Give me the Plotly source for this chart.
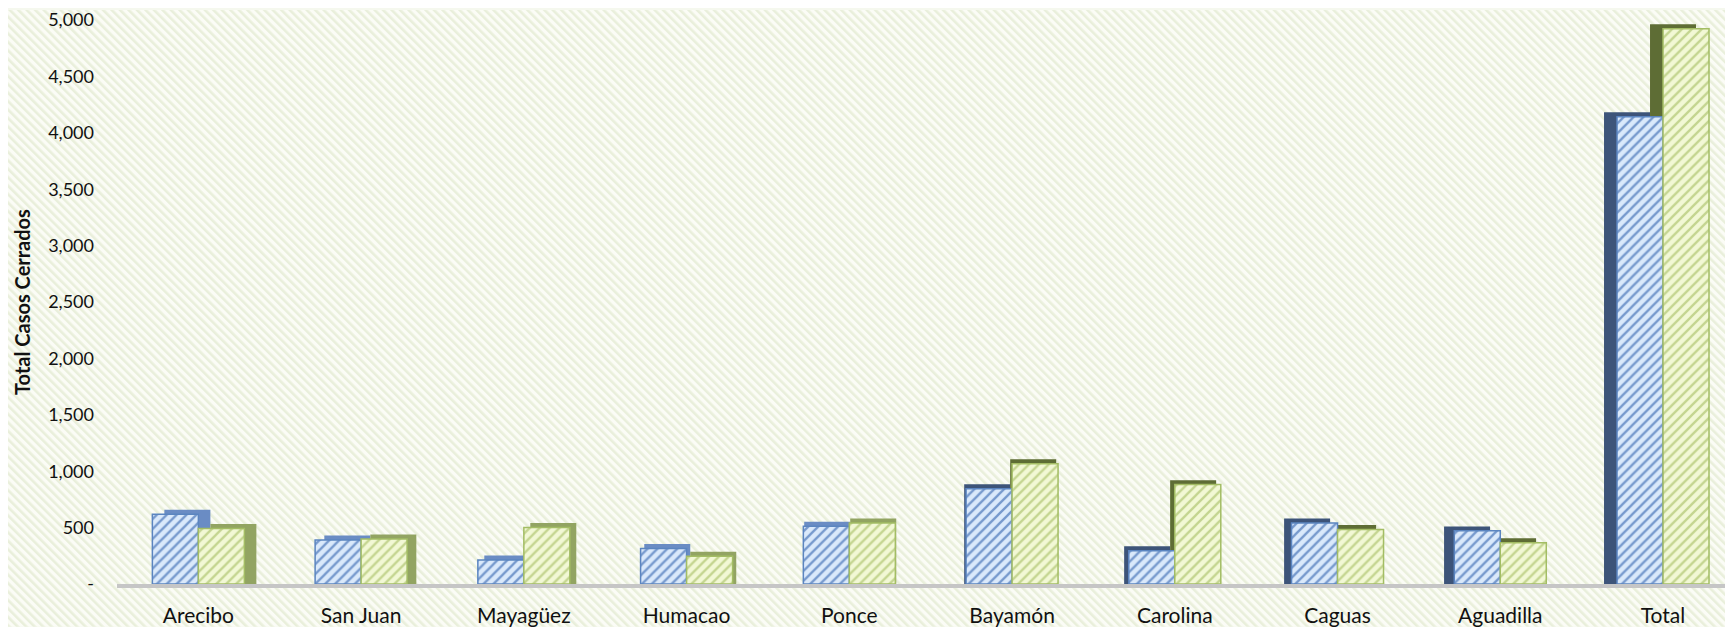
import base64
import plotly.graph_objects as go

categories = ["Arecibo", "San Juan", "Mayagüez", "Humacao", "Ponce",
              "Bayamón", "Carolina", "Caguas", "Aguadilla", "Total"]
serie_azul = [618, 390, 212, 315, 512, 845, 294, 541, 471, 4143]
serie_verde = [492, 400, 500, 247, 541, 1066, 881, 483, 365, 4923]
y_tickvals = [0, 500, 1000, 1500, 2000, 2500, 3000, 3500, 4000, 4500, 5000]
y_ticktext = ["-", "500", "1,000", "1,500", "2,000", "2,500", "3,000",
              "3,500", "4,000", "4,500", "5,000"]
y_title = "Total Casos Cerrados"

# page body has an 8px default margin; size the figure to the visible area
OFF = 8
W, H = 1733 - OFF, 627 - OFF
ML, MR, MT, MB = 117 - OFF, 0, 18 - OFF, 43
PW, PH = W - ML - MR, H - MT - MB
XMAX = 9.43
unit_px = PW / (XMAX + 0.5)
px_per_val = PH / 5000.0

bw = 46 / unit_px                      # bar width in category units
n = len(categories)
# pseudo-3D depth: horizontal shift varies with perspective, vertical shift fixed
dx = [(12 - 25 * i / (n - 1)) / unit_px for i in range(n)]
dy = 4.5 / px_per_val
blue_side = ["#6a8cc4" if i < 5 else "#3d5479" for i in range(n)]
green_side = ["#92a462" if i < 5 else "#5e6d35" for i in range(n)]

svg = (
    f'<svg xmlns="http://www.w3.org/2000/svg" width="{W}" height="{H}">'
    '<defs><pattern id="p" width="6" height="6" patternUnits="userSpaceOnUse" '
    'patternTransform="rotate(-45)">'
    '<rect width="6" height="6" fill="#fbfcf6"/>'
    '<rect width="2.6" height="6" fill="#e9efdb"/></pattern></defs>'
    '<rect width="100%" height="100%" fill="url(#p)"/></svg>'
)
bg_src = "data:image/svg+xml;base64," + base64.b64encode(svg.encode()).decode()

fig = go.Figure()

# depth (side/top) faces, drawn first so the front faces cover them
for vals, off0, cols in [(serie_azul, -bw, blue_side), (serie_verde, 0.0, green_side)]:
    fig.add_trace(go.Bar(
        x=categories, y=[v + dy for v in vals],
        offset=[off0 + d for d in dx], width=bw,
        marker=dict(color=cols, line=dict(width=0)),
        showlegend=False, hoverinfo="skip"))

# front faces
fig.add_trace(go.Bar(
    x=categories, y=serie_azul, offset=-bw, width=bw, name="Azul",
    marker=dict(
        color="#d8e8fb",
        line=dict(color="#5b85c0", width=1.5),
        pattern=dict(shape="/", fillmode="replace", bgcolor="#dae9fb",
                     fgcolor="#7699cd", size=7, solidity=0.33)),
    showlegend=False))
fig.add_trace(go.Bar(
    x=categories, y=serie_verde, offset=0, width=bw, name="Verde",
    marker=dict(
        color="#eff7cf",
        line=dict(color="#a3bd64", width=1.5),
        pattern=dict(shape="/", fillmode="replace", bgcolor="#f2f8d5",
                     fgcolor="#c4d590", size=7, solidity=0.33)),
    showlegend=False))

fig.update_layout(
    width=W, height=H,
    margin=dict(l=ML, r=MR, t=MT, b=MB, pad=0),
    barmode="overlay",
    paper_bgcolor="#f5f8ee",
    plot_bgcolor="rgba(0,0,0,0)",
    font=dict(family="Lato, 'Open Sans', sans-serif", size=18, color="#111111"),
    images=[dict(source=bg_src, xref="paper", yref="paper",
                 x=-ML / PW, y=1 + MT / PH, sizex=W / PW, sizey=H / PH,
                 xanchor="left", yanchor="top", sizing="stretch", layer="below")],
    xaxis=dict(range=[-0.5, XMAX], showgrid=False, showline=True,
               linecolor="#c6c6c6", linewidth=4, ticks="", zeroline=False,
               tickfont=dict(size=21), ticklabelstandoff=10,
               ticklabeloverflow="allow"),
    yaxis=dict(range=[0, 5000], tickvals=y_tickvals, ticktext=y_ticktext,
               showgrid=False, zeroline=False, showline=False, ticks="",
               tickfont=dict(size=18), ticklabelstandoff=22,
               ticklabeloverflow="allow"),
    annotations=[dict(text=f"<b>{y_title}</b>", xref="paper", yref="paper",
                      x=-(ML - (22 - OFF)) / PW, y=0.5, textangle=-90,
                      showarrow=False, font=dict(size=20, color="#111111"),
                      xanchor="center", yanchor="middle")],
)

fig.write_html("out.html")
